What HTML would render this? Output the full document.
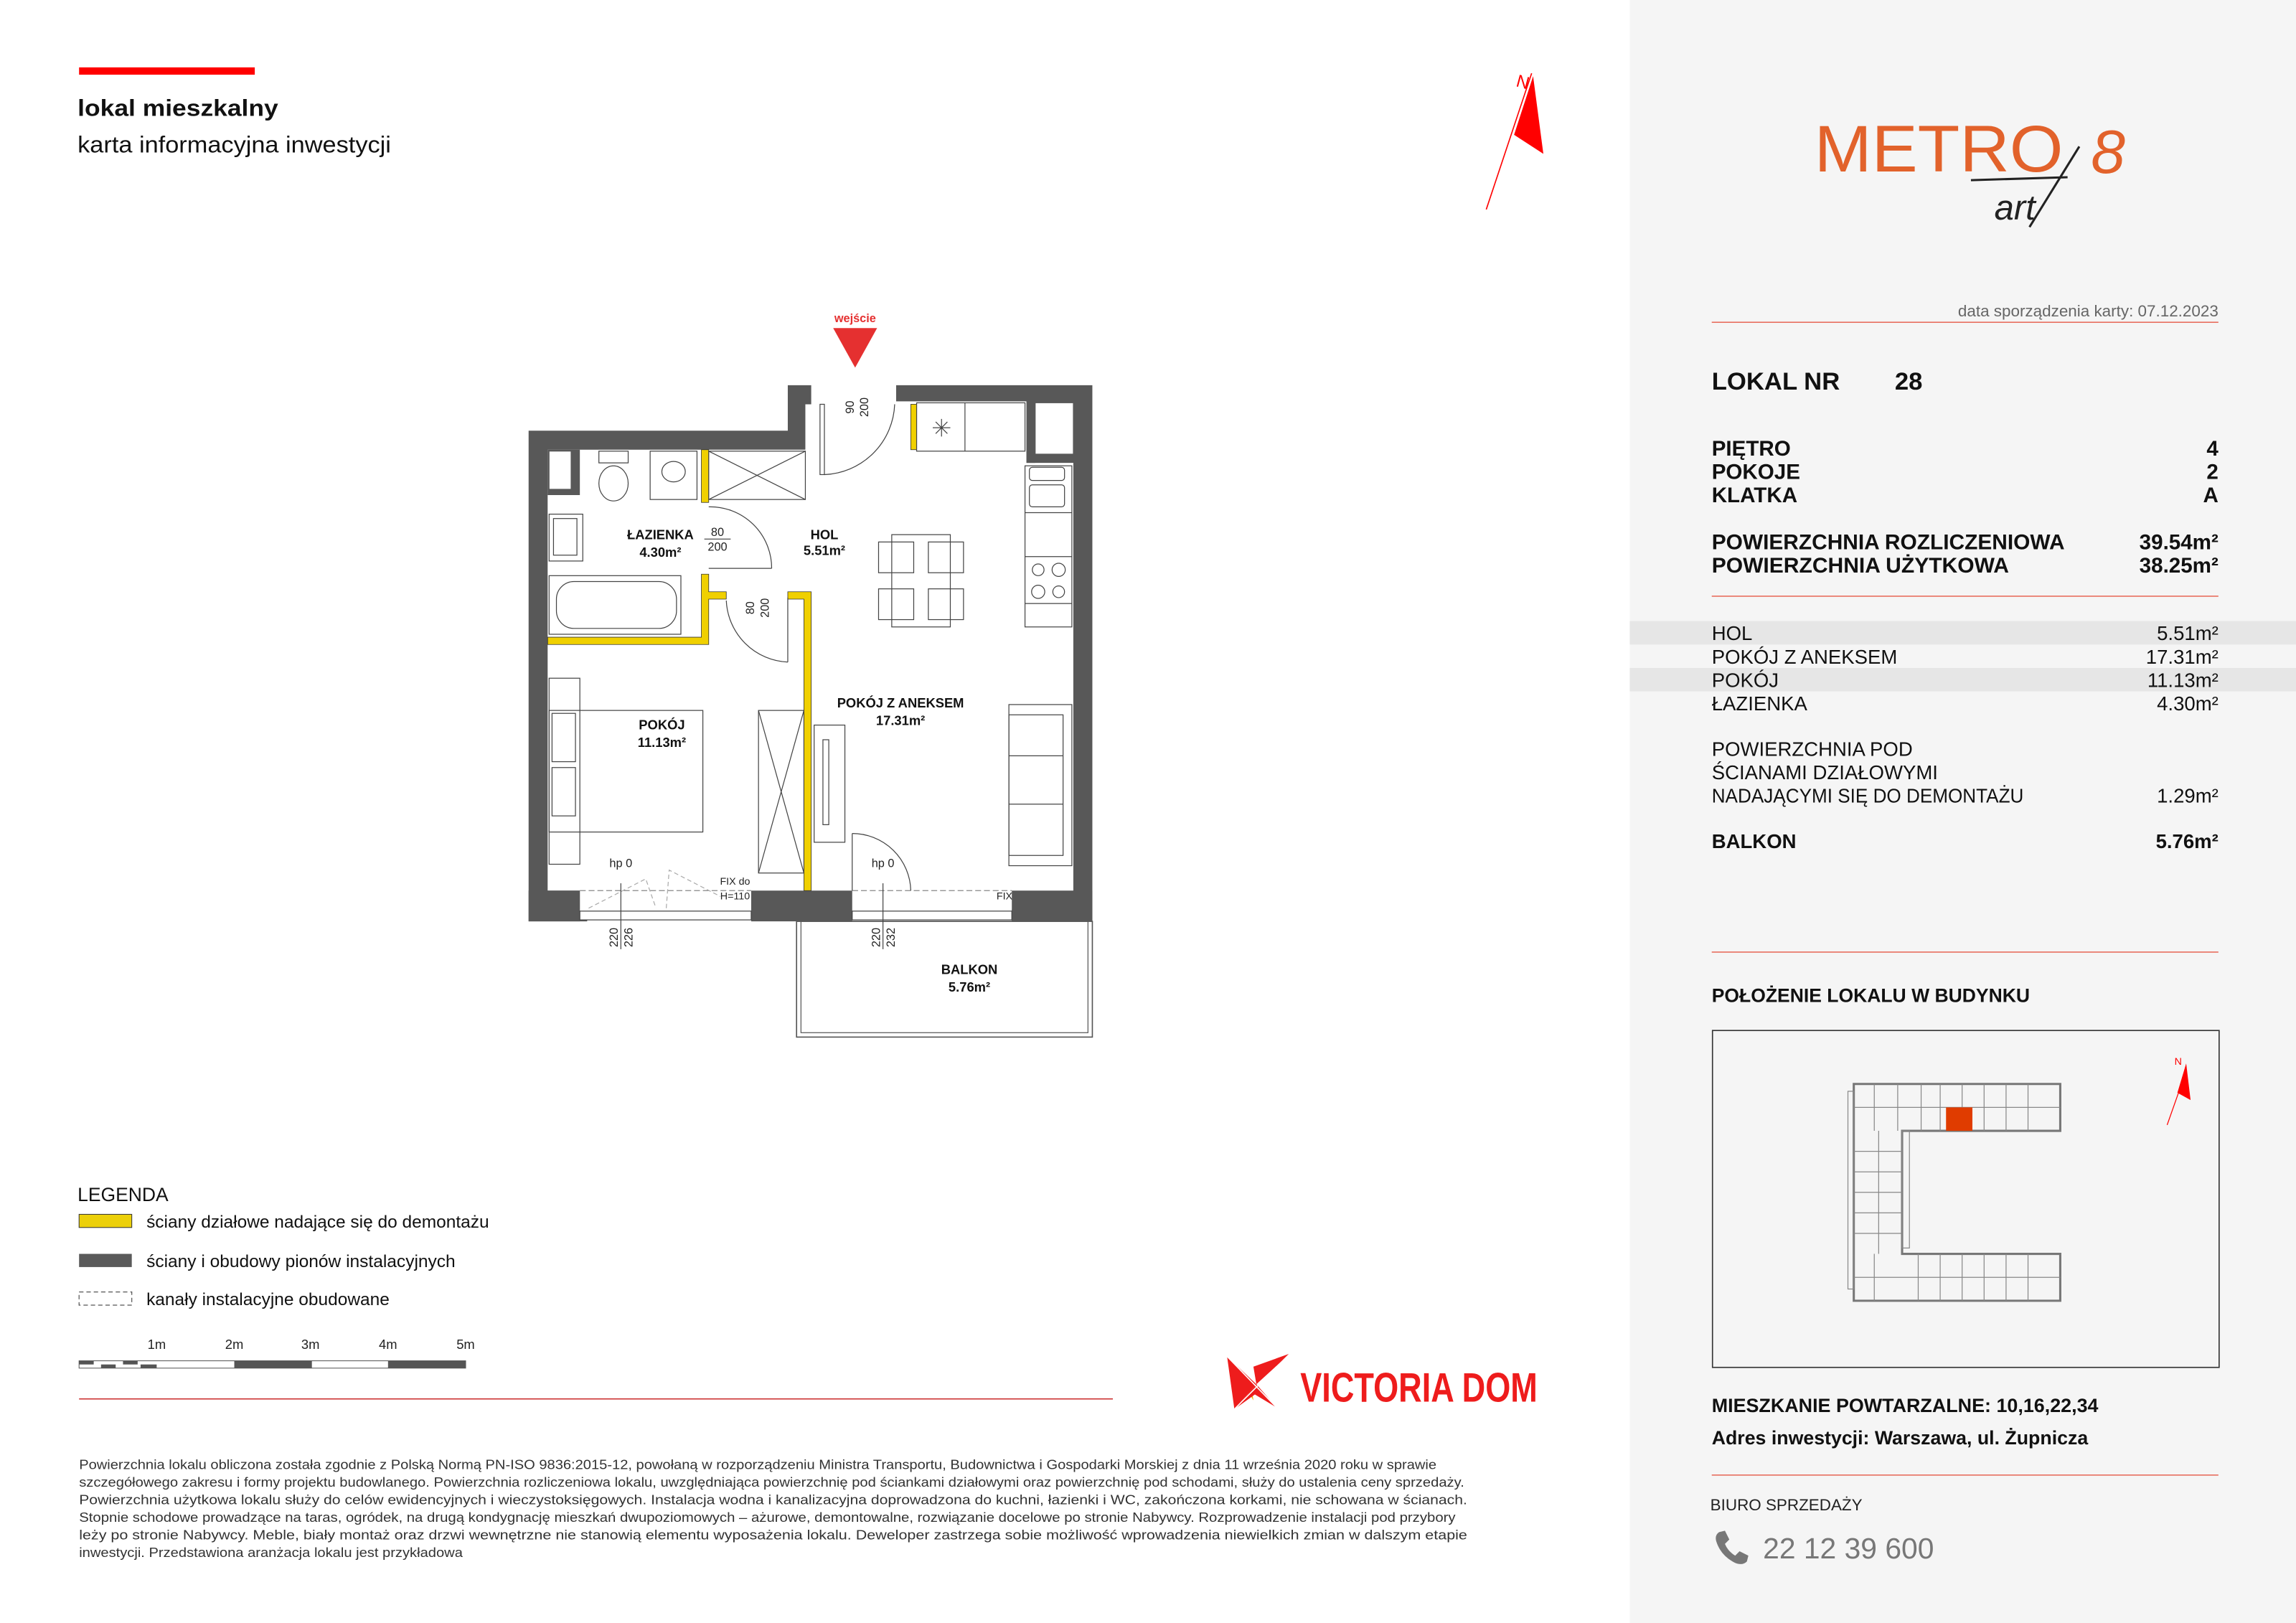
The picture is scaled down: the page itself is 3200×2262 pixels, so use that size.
<!DOCTYPE html>
<html><head><meta charset="utf-8"><style>
html,body{margin:0;padding:0;background:#fff}
svg{display:block}
text{font-family:"Liberation Sans",sans-serif}
</style></head><body>
<svg width="3200" height="2262" viewBox="0 0 1568 1108" preserveAspectRatio="none" xmlns="http://www.w3.org/2000/svg">
<rect x="0" y="0" width="1568" height="1108" fill="#fff"/>
<rect x="1113" y="0" width="455" height="1108" fill="#f5f5f5"/>

<!-- header -->
<rect x="54" y="46" width="120" height="5" fill="#f00"/>
<text x="53" y="79" font-size="16" font-weight="bold" fill="#111" textLength="137" lengthAdjust="spacingAndGlyphs">lokal mieszkalny</text>
<text x="53" y="104" font-size="16" fill="#111" textLength="214" lengthAdjust="spacingAndGlyphs">karta informacyjna inwestycji</text>

<!-- north arrow -->
<line x1="1015" y1="143" x2="1046" y2="50" stroke="#f00" stroke-width="0.8"/>
<polygon points="1047,52 1054,105 1034,92" fill="#f00"/>
<text x="1036" y="60" font-size="12" fill="#f00" transform="rotate(15 1040 55)">N</text>

<!-- floor plan -->
<g>
<!-- balcony -->
<rect x="544" y="629" width="202" height="79" fill="none" stroke="#555" stroke-width="0.8"/>
<rect x="547" y="629" width="196" height="76" fill="none" stroke="#555" stroke-width="0.6"/>
<!-- dark walls -->
<path fill="#585858" d="M361,294 H538 V263 H554 V276 H550 V307 H374 V608 H396 V622 H401 V629 H361 Z"/>
<path fill="#585858" d="M612,263 H746 V629 H691 V621 H733 V316 H701 V274 H612 Z"/>
<rect x="707" y="275" width="26" height="35" fill="#fff" stroke="#585858" stroke-width="0.5"/>
<rect x="701" y="274" width="6" height="42" fill="#585858"/>
<path fill="#585858" d="M374,307 H396 V338 H374 Z"/>
<rect x="375" y="308" width="15" height="26" fill="#fff" stroke="#585858" stroke-width="0.5"/>
<rect x="513" y="608" width="69" height="21" fill="#585858"/>
<rect x="691" y="608" width="55" height="21" fill="#585858"/>
<rect x="361" y="608" width="35" height="21" fill="#585858"/>
<!-- windows -->
<rect x="396" y="622" width="117" height="6" fill="#fff" stroke="#444" stroke-width="0.6"/>
<rect x="582" y="622" width="109" height="6" fill="#fff" stroke="#444" stroke-width="0.6"/>
<line x1="396" y1="608" x2="513" y2="608" stroke="#888" stroke-width="0.6" stroke-dasharray="4,2"/>
<line x1="582" y1="608" x2="691" y2="608" stroke="#888" stroke-width="0.6" stroke-dasharray="4,2"/>
<path d="M402,620 L441,600 L448,620 M455,620 L457,594 L492,612" fill="none" stroke="#aaa" stroke-width="0.6" stroke-dasharray="3,2"/>
<!-- yellow walls -->
<g fill="#f0d000" stroke="#333" stroke-width="0.4">
<rect x="479" y="307" width="5" height="36"/>
<path d="M374,435 H479 V392 H484 V404 H496 V409 H484 V440 H374 Z"/>
<path d="M538,404 H554 V608 H549 V409 H538 Z"/>
<rect x="622" y="276" width="4" height="31"/>
</g>
<!-- fixtures -->
<g fill="none" stroke="#444" stroke-width="0.6">
<rect x="484" y="308" width="66" height="33"/><path d="M484,308 L550,341 M550,308 L484,341"/>
<rect x="444" y="308" width="32" height="33"/><ellipse cx="460" cy="322" rx="8" ry="7"/>
<rect x="409" y="308" width="20" height="8"/><ellipse cx="419" cy="330" rx="10" ry="12"/>
<rect x="375" y="351" width="23" height="32"/><rect x="378" y="354" width="16" height="25"/>
<rect x="375" y="393" width="90" height="40"/><rect x="380" y="397" width="82" height="32" rx="12"/>
<rect x="626" y="275" width="74" height="33"/><line x1="659" y1="275" x2="659" y2="308"/>
<path d="M637,292 h12 M643,286 v12 M639,288 l8,8 M647,288 l-8,8"/>
<rect x="700" y="318" width="32" height="110"/><rect x="703" y="319" width="24" height="9" rx="2"/><rect x="703" y="331" width="24" height="15" rx="2"/>
<line x1="700" y1="350" x2="732" y2="350"/><line x1="700" y1="380" x2="732" y2="380"/><line x1="700" y1="412" x2="732" y2="412"/>
<circle cx="709" cy="389" r="4"/><circle cx="723" cy="389" r="4.5"/><circle cx="709" cy="404" r="4.5"/><circle cx="723" cy="404" r="4"/>
<rect x="609" y="365" width="40" height="63"/>
<rect x="600" y="370" width="24" height="21"/><rect x="634" y="370" width="24" height="21"/><rect x="600" y="402" width="24" height="21"/><rect x="634" y="402" width="24" height="21"/>
<rect x="518" y="485" width="31" height="111"/><path d="M518,485 L549,596 M549,485 L518,596"/>
<rect x="556" y="495" width="21" height="80"/><rect x="562" y="505" width="4" height="58"/>
<rect x="689" y="481" width="43" height="110"/><rect x="689" y="488" width="37" height="96"/><line x1="689" y1="516" x2="726" y2="516"/><line x1="689" y1="549" x2="726" y2="549"/>
<rect x="375" y="485" width="105" height="83"/>
<rect x="375" y="463" width="21" height="127"/><rect x="377" y="487" width="16" height="33"/><rect x="377" y="524" width="16" height="33"/>
<!-- doors -->
<rect x="560" y="276" width="3" height="48"/>
<path d="M563,324 A50,50 0 0 0 611,276"/>
<line x1="484" y1="388" x2="527" y2="388"/>
<path d="M484,346 A42,42 0 0 1 527,388"/>
<line x1="538" y1="408" x2="538" y2="452"/>
<path d="M496,410 A44,44 0 0 0 538,452"/>
<line x1="582" y1="569" x2="582" y2="608"/>
<path d="M582,569 A40,40 0 0 1 622,608"/>
<line x1="424" y1="603" x2="424" y2="648"/><line x1="603" y1="603" x2="603" y2="648"/>
</g>
<polygon points="569,224 599,224 584,251" fill="#e53030"/>
<text x="584" y="220" font-size="8" font-weight="bold" fill="#e53030" text-anchor="middle">wejście</text>
<g font-size="9" font-weight="bold" fill="#111" text-anchor="middle">
<text x="451" y="368">ŁAZIENKA</text><text x="451" y="380">4.30m²</text>
<text x="563" y="368">HOL</text><text x="563" y="379">5.51m²</text>
<text x="615" y="483">POKÓJ Z ANEKSEM</text><text x="615" y="495">17.31m²</text>
<text x="452" y="498">POKÓJ</text><text x="452" y="510">11.13m²</text>
<text x="662" y="665">BALKON</text><text x="662" y="677">5.76m²</text>
</g>
<g font-size="8" fill="#222" text-anchor="middle">
<text x="490" y="366">80</text><line x1="481" y1="368" x2="499" y2="368" stroke="#222" stroke-width="0.5"/><text x="490" y="376">200</text>
<text x="424" y="592">hp 0</text><text x="603" y="592">hp 0</text>
<text x="502" y="604" font-size="7">FIX do</text><text x="502" y="614" font-size="7">H=110</text>
<text x="686" y="614" font-size="7">FIX</text>
<text transform="translate(583,278) rotate(-90)" x="0" y="0">90</text><text transform="translate(593,278) rotate(-90)">200</text>
<text transform="translate(515,415) rotate(-90)">80</text><text transform="translate(525,415) rotate(-90)">200</text>
<text transform="translate(422,640) rotate(-90)">220</text><text transform="translate(432,640) rotate(-90)">226</text>
<text transform="translate(601,640) rotate(-90)">220</text><text transform="translate(611,640) rotate(-90)">232</text>
</g>
</g>

<!-- legend -->
<text x="53" y="820" font-size="13" fill="#111" textLength="62" lengthAdjust="spacingAndGlyphs">LEGENDA</text>
<rect x="54" y="829" width="36" height="9" fill="#ecd00a" stroke="#333" stroke-width="0.5"/>
<rect x="54" y="856" width="36" height="9" fill="#5a5a5a"/>
<rect x="54" y="882" width="36" height="9" fill="none" stroke="#555" stroke-width="0.6" stroke-dasharray="3,2"/>
<g font-size="12" fill="#111">
<text x="100" y="838" textLength="234" lengthAdjust="spacingAndGlyphs">ściany działowe nadające się do demontażu</text>
<text x="100" y="865" textLength="211" lengthAdjust="spacingAndGlyphs">ściany i obudowy pionów instalacyjnych</text>
<text x="100" y="891" textLength="166" lengthAdjust="spacingAndGlyphs">kanały instalacyjne obudowane</text>
</g>
<g font-size="9" fill="#222" text-anchor="middle"><text x="107" y="921">1m</text><text x="160" y="921">2m</text><text x="212" y="921">3m</text><text x="265" y="921">4m</text><text x="318" y="921">5m</text></g>
<rect x="54" y="929" width="264" height="5" fill="#fff" stroke="#555" stroke-width="0.5"/>
<rect x="160" y="929" width="53" height="5" fill="#555"/><rect x="265" y="929" width="53" height="5" fill="#555"/>
<rect x="54" y="929" width="10" height="2.5" fill="#555"/><rect x="69" y="931.5" width="10" height="2.5" fill="#555"/><rect x="84" y="929" width="10" height="2.5" fill="#555"/><rect x="96" y="931.5" width="11" height="2.5" fill="#555"/>
<line x1="54" y1="955" x2="760" y2="955" stroke="#c33" stroke-width="0.8"/>

<!-- victoria dom -->
<polygon points="838,926 854,943 856,956" fill="#f5b000"/>
<polygon points="838,926 858,945 843,962" fill="#ee1c1c"/>
<polygon points="881,924 858,945 856,933" fill="#ee1c1c"/>
<polygon points="858,945 872,961 857,952 843,962" fill="#ee1c1c"/>
<line x1="838" y1="926" x2="872" y2="961" stroke="#fff" stroke-width="0.8"/>
<line x1="881" y1="924" x2="843" y2="962" stroke="#fff" stroke-width="0.8"/>
<text x="888" y="957" font-size="28" font-weight="bold" fill="#ee1c1c" textLength="162" lengthAdjust="spacingAndGlyphs">VICTORIA DOM</text>

<!-- footer -->
<g font-size="9" fill="#333">
<text x="54" y="1003" textLength="927" lengthAdjust="spacingAndGlyphs">Powierzchnia lokalu obliczona została zgodnie z Polską Normą PN-ISO 9836:2015-12, powołaną w rozporządzeniu Ministra Transportu, Budownictwa i Gospodarki Morskiej z dnia 11 września 2020 roku w sprawie</text>
<text x="54" y="1015" textLength="946" lengthAdjust="spacingAndGlyphs">szczegółowego zakresu i formy projektu budowlanego. Powierzchnia rozliczeniowa lokalu, uwzględniająca powierzchnię pod ściankami działowymi oraz powierzchnię pod schodami,  służy do ustalenia ceny sprzedaży.</text>
<text x="54" y="1027" textLength="948" lengthAdjust="spacingAndGlyphs">Powierzchnia użytkowa lokalu służy do celów ewidencyjnych i wieczystoksięgowych. Instalacja wodna i kanalizacyjna doprowadzona do kuchni, łazienki i WC, zakończona korkami, nie schowana w ścianach.</text>
<text x="54" y="1039" textLength="940" lengthAdjust="spacingAndGlyphs">Stopnie schodowe prowadzące na taras, ogródek, na drugą kondygnację mieszkań dwupoziomowych – ażurowe, demontowalne, rozwiązanie docelowe po stronie Nabywcy. Rozprowadzenie instalacji pod przybory</text>
<text x="54" y="1051" textLength="948" lengthAdjust="spacingAndGlyphs">leży po stronie Nabywcy. Meble, biały montaż oraz drzwi wewnętrzne nie stanowią elementu wyposażenia lokalu. Deweloper zastrzega sobie możliwość wprowadzenia niewielkich zmian w dalszym etapie</text>
<text x="54" y="1063" textLength="262" lengthAdjust="spacingAndGlyphs">inwestycji. Przedstawiona aranżacja lokalu jest przykładowa</text>
</g>

<!-- right panel -->
<text x="1239" y="117" font-size="45" fill="#e2622b" textLength="170" lengthAdjust="spacingAndGlyphs">METRO</text>
<text x="1428" y="118" font-size="42" font-style="italic" fill="#e2622b" font-family="Liberation Serif">8</text>
<line x1="1346" y1="123" x2="1412" y2="121" stroke="#222" stroke-width="1.5"/>
<line x1="1420" y1="100" x2="1386" y2="155" stroke="#222" stroke-width="1.5"/>
<text x="1362" y="150" font-size="24" font-style="italic" fill="#222" font-family="Liberation Serif">art</text>

<text x="1515" y="216" font-size="11" fill="#666" text-anchor="end">data sporządzenia karty: 07.12.2023</text>
<line x1="1169" y1="220" x2="1515" y2="220" stroke="#e87060" stroke-width="0.8"/>
<text x="1169" y="266" font-size="17" font-weight="bold" fill="#111">LOKAL NR</text>
<text x="1294" y="266" font-size="17" font-weight="bold" fill="#111">28</text>
<g font-size="14.5" font-weight="bold" fill="#111">
<text x="1169" y="311">PIĘTRO</text><text x="1169" y="327">POKOJE</text><text x="1169" y="343">KLATKA</text>
<text x="1169" y="375" textLength="241" lengthAdjust="spacingAndGlyphs">POWIERZCHNIA ROZLICZENIOWA</text>
<text x="1169" y="391" textLength="203" lengthAdjust="spacingAndGlyphs">POWIERZCHNIA UŻYTKOWA</text>
<g text-anchor="end"><text x="1515" y="311">4</text><text x="1515" y="327">2</text><text x="1515" y="343">A</text><text x="1515" y="375">39.54m²</text><text x="1515" y="391">38.25m²</text></g>
</g>
<line x1="1169" y1="407" x2="1515" y2="407" stroke="#e87060" stroke-width="0.8"/>
<rect x="1113" y="424" width="455" height="16" fill="#e6e6e6"/>
<rect x="1113" y="456" width="455" height="16" fill="#e6e6e6"/>
<g font-size="13.5" fill="#111">
<text x="1169" y="437">HOL</text><text x="1169" y="453">POKÓJ Z ANEKSEM</text><text x="1169" y="469">POKÓJ</text><text x="1169" y="485">ŁAZIENKA</text>
<text x="1169" y="516">POWIERZCHNIA POD</text><text x="1169" y="532">ŚCIANAMI DZIAŁOWYMI</text><text x="1169" y="548" textLength="213" lengthAdjust="spacingAndGlyphs">NADAJĄCYMI SIĘ DO DEMONTAŻU</text>
<g text-anchor="end"><text x="1515" y="437">5.51m²</text><text x="1515" y="453">17.31m²</text><text x="1515" y="469">11.13m²</text><text x="1515" y="485">4.30m²</text><text x="1515" y="548">1.29m²</text></g>
</g>
<text x="1169" y="579" font-size="13.5" font-weight="bold" fill="#111">BALKON</text>
<text x="1515" y="579" font-size="13.5" font-weight="bold" fill="#111" text-anchor="end">5.76m²</text>
<line x1="1169" y1="650" x2="1515" y2="650" stroke="#e87060" stroke-width="0.8"/>
<text x="1169" y="684" font-size="13" font-weight="bold" fill="#111">POŁOŻENIE LOKALU W BUDYNKU</text>
<rect x="1169.5" y="703.5" width="346" height="230" fill="none" stroke="#333" stroke-width="0.8"/>
<!-- mini building -->
<g fill="none" stroke="#777" stroke-width="1.5">
<path d="M1266,740 H1407 V772 H1299 V856 H1407 V888 H1266 Z"/>
</g>
<g fill="none" stroke="#888" stroke-width="0.6">
<path d="M1280,740 V772 M1296,740 V772 M1312,740 V772 M1325,740 V772 M1340,740 V772 M1355,740 V772 M1370,740 V772 M1385,740 V772 M1266,756 H1407"/>
<path d="M1280,856 V888 M1310,856 V888 M1325,856 V888 M1340,856 V888 M1355,856 V888 M1370,856 V888 M1385,856 V888 M1266,872 H1407"/>
<path d="M1266,786 H1299 M1266,800 H1299 M1266,814 H1299 M1266,828 H1299 M1266,842 H1299 M1283,772 V856"/>
<rect x="1262" y="745" width="4" height="135"/><rect x="1299" y="772" width="5" height="80"/>
</g>
<rect x="1329" y="756" width="18" height="16" fill="#e03c00"/>
<line x1="1480" y1="768" x2="1492" y2="734" stroke="#f00" stroke-width="0.6"/>
<polygon points="1493,726 1496,751 1487,746" fill="#f00"/>
<text x="1485" y="727" font-size="7" fill="#f00">N</text>

<text x="1169" y="964" font-size="13" font-weight="bold" fill="#111" textLength="264" lengthAdjust="spacingAndGlyphs">MIESZKANIE POWTARZALNE: 10,16,22,34</text>
<text x="1169" y="986" font-size="13" font-weight="bold" fill="#111" textLength="257" lengthAdjust="spacingAndGlyphs">Adres inwestycji: Warszawa, ul. Żupnicza</text>
<line x1="1169" y1="1007" x2="1515" y2="1007" stroke="#e87060" stroke-width="0.8"/>
<text x="1168" y="1031" font-size="11" fill="#222">BIURO SPRZEDAŻY</text>
<path d="M1174,1046 l4,-1 l3,6 l-3,3 q2,5 7,8 l3,-3 l6,3 l-1,4 q-3,3 -8,1 q-10,-5 -13,-15 q-1,-4 2,-6 z" fill="#777"/>
<text x="1204" y="1064" font-size="20" fill="#777">22 12 39 600</text>
</svg>
</body></html>
